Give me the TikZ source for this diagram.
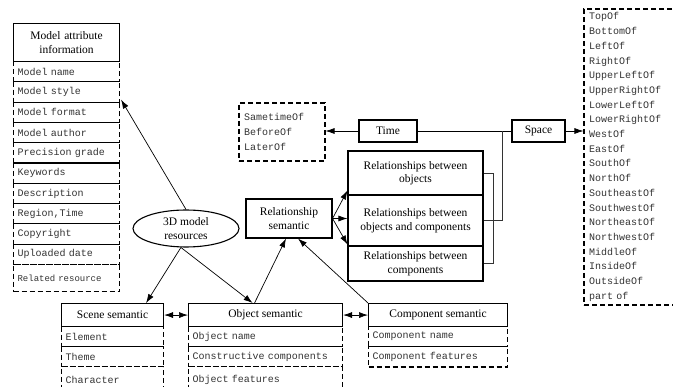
\documentclass[tikz,border=0pt]{standalone}
\usepackage{fontspec}
\setmainfont{Liberation Serif}
\setmonofont{Liberation Mono}
\usetikzlibrary{arrows.meta,calc,shapes.geometric}
\begin{document}
\begin{tikzpicture}[x=1pt,y=-1pt,
  box/.style={draw,line width=1.1pt,inner sep=2pt,align=center,font=\fontsize{11.5}{13.5}\selectfont},
  tbox/.style={box,anchor=north west},
  drow/.style={draw,line width=1.1pt,dash pattern=on 5pt off 3pt,anchor=north west,inner xsep=4pt,inner ysep=0pt,align=left,font=\fontsize{10}{12}\ttfamily,text=black!80},
  dlist/.style={draw,line width=1.1pt,dash pattern=on 5pt off 3pt,inner xsep=5pt,inner ysep=0pt,align=left,text=black!80},
  conn/.style={line width=0.7pt,-{Latex[length=9pt,width=6pt]}},
  dconn/.style={line width=0.7pt,{Latex[length=9pt,width=6pt]}-{Latex[length=9pt,width=6pt]}},
  brk/.style={line width=0.6pt,black!80}]
\useasboundingbox (0,0) rectangle (673,387);
\clip (0,0) rectangle (673,387);

% Model attribute information
\node[tbox,minimum width=106pt,minimum height=38pt,text width=100pt] (mtitle) at (13,23) {Model attribute\\information};
\node[drow,text width=98pt,minimum height=20.3pt] (m0) at (13,61.0) {Model name};
\node[drow,text width=98pt,minimum height=20.3pt] (m1) at (13,81.3) {Model style};
\node[drow,text width=98pt,minimum height=20.3pt] (m2) at (13,101.6) {Model format};
\node[drow,text width=98pt,minimum height=20.3pt] (m3) at (13,121.9) {Model author};
\node[drow,text width=98pt,minimum height=20.3pt] (m4) at (13,142.2) {Precision grade};
\node[drow,text width=98pt,minimum height=20.3pt] (m5) at (13,162.5) {Keywords};
\node[drow,text width=98pt,minimum height=20.3pt] (m6) at (13,182.8) {Description};
\node[drow,text width=98pt,minimum height=20.3pt] (m7) at (13,203.1) {Region,Time};
\node[drow,text width=98pt,minimum height=20.3pt] (m8) at (13,223.4) {Copyright};
\node[drow,text width=98pt,minimum height=20.3pt] (m9) at (13,243.7) {Uploaded date};
\node[drow,text width=98pt,minimum height=27pt,font=\fontsize{9}{11}\ttfamily] (m10) at (13,264) {Related resource};

% 3D model resources
\node[draw,ellipse,line width=1.1pt,minimum width=106pt,minimum height=37pt,inner sep=0pt,align=center,font=\fontsize{11.5}{13.5}\selectfont] (res) at (186,228.5) {3D model\\resources};

% Scene semantic
\node[tbox,minimum width=102pt,minimum height=23pt] (scene) at (61,303) {Scene semantic};
\node[drow,text width=94pt,minimum height=20pt] (s0) at (61,326) {Element};
\node[drow,text width=94pt,minimum height=20pt] (s1) at (61,346) {Theme};
\node[drow,text width=94pt,minimum height=26pt] (s2) at (61,366) {Character};

% Object semantic
\node[tbox,minimum width=154pt,minimum height=23pt] (obj) at (188,303) {Object semantic};
\node[drow,text width=146pt,minimum height=20pt] (o0) at (188,326) {Object name};
\node[drow,text width=146pt,minimum height=20pt] (o1) at (188,346) {Constructive components};
\node[drow,text width=146pt,minimum height=26pt] (o2) at (188,366) {Object features};

% Component semantic
\node[tbox,minimum width=139pt,minimum height=23pt] (comp) at (368,303) {Component semantic};
\node[drow,text width=131pt,minimum height=20pt] (c0) at (368,326) {Component name};
\node[drow,text width=131pt,minimum height=20.5pt] (c1) at (368,346) {Component features};

% Relationship semantic
\node[box,minimum width=86pt,minimum height=39pt] (rs) at (289,218.5) {Relationship\\semantic};
\node[box,minimum width=135pt,minimum height=44pt] (rel1) at (415.5,173) {Relationships between\\objects};
\node[box,minimum width=135pt,minimum height=51pt] (rel2) at (415.5,220.5) {Relationships between\\objects and components};
\node[box,minimum width=135pt,minimum height=35pt] (rel3) at (415.5,263.5) {Relationships between\\components};

% Time and Space
\node[box,minimum width=58pt,minimum height=22pt] (time) at (388,131) {Time};
\node[box,minimum width=53pt,minimum height=22pt] (space) at (538.5,131) {Space};
\node[dlist,text width=76pt,minimum height=58pt,font=\fontsize{10}{15}\ttfamily] (tlist) at (282,132) {SametimeOf\\BeforeOf\\LaterOf};
\node[dlist,text width=106pt,minimum height=296pt,font=\fontsize{10}{14.7}\ttfamily] (slist) at (642,157) {TopOf\\BottomOf\\LeftOf\\RightOf\\UpperLeftOf\\UpperRightOf\\LowerLeftOf\\LowerRightOf\\WestOf\\EastOf\\SouthOf\\NorthOf\\SoutheastOf\\SouthwestOf\\NortheastOf\\NorthwestOf\\MiddleOf\\InsideOf\\OutsideOf\\part of};

% connectors
\draw[conn] (res.north) -- ($(m1.south east)+(1,-3)$);
\draw[conn] (res.255) -- ($(scene.north east)+(-18,0)$);
\draw[conn] (res.255) -- ($(obj.north)+(-13,0)$);
\draw[conn] ($(obj.north)+(-11,0)$) -- ($(rs.south)+(-3,0)$);
\draw[conn] (comp.north west) -- ($(rs.south)+(9,0)$);
\draw[dconn] (scene.east) -- (obj.west);
\draw[dconn] (obj.east) -- (comp.west);
\draw[conn] (rs.east) -- ($(rel1.south west)+(0,-5)$);
\draw[conn] (rs.east) -- (rel2.west |- rs.east);
\draw[conn] (rs.east) -- ($(rel3.north west)+(0,-1)$);
\draw[conn] (time.west) -- (time.west -| tlist.east);
\draw[line width=0.7pt] (time.east) -- (space.west);
\draw[conn] (space.east) -- (space.east -| slist.west);
\coordinate (junc) at ($(space.west)+(-9,0)$);
\draw[brk] (rel2.east) -| (junc);
\draw[brk] (rel1.east) -- ++(10,0) |- (rel3.east);
\end{tikzpicture}
\end{document}
